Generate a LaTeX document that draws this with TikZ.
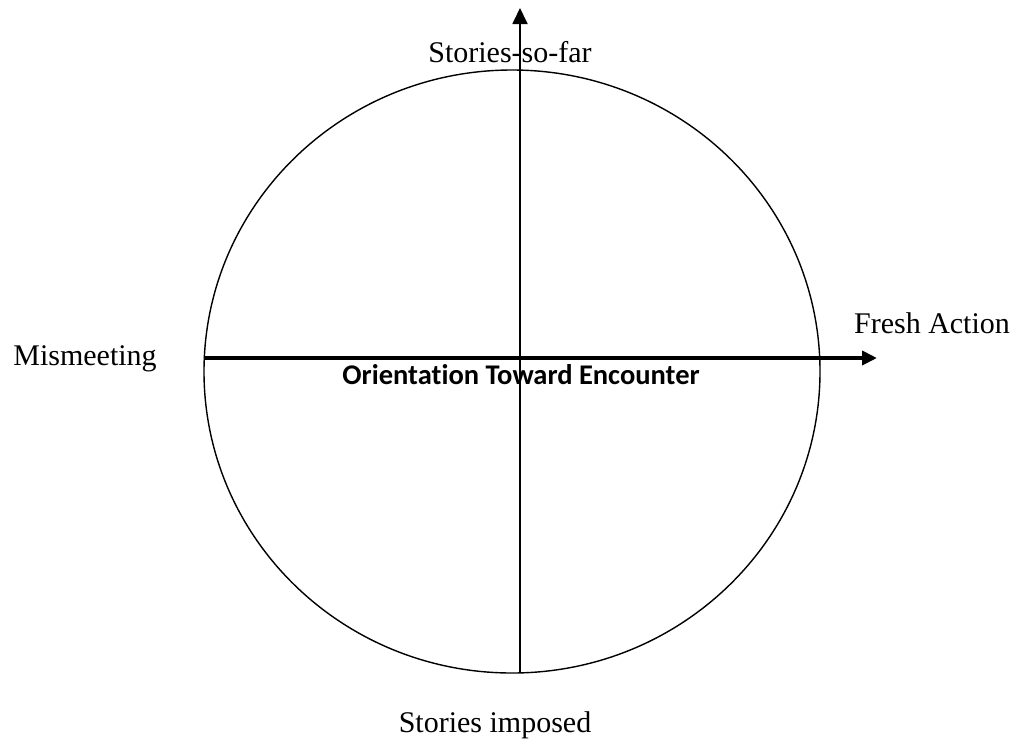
\documentclass[tikz,border=0pt]{standalone}
\usepackage{fontspec}
\setmainfont{Liberation Serif}
\newfontfamily\labelsans[Ligatures={NoCommon}]{Carlito}
\usetikzlibrary{arrows.meta,shapes.geometric}
\begin{document}
\begin{tikzpicture}[x=1pt,y=-1pt,
  ring/.style={draw,ellipse,line width=1.4pt,minimum width=616pt,minimum height=603pt,inner sep=0pt},
  axislabel/.style={anchor=base,inner sep=0pt,font=\fontsize{30}{36}\selectfont},
  axistitle/.style={anchor=base,inner sep=0pt,font=\labelsans\bfseries\fontsize{28.5}{34}\selectfont}]
\useasboundingbox (0,0) rectangle (1019,740);
% outer circle
\node[ring] (circle) at (512,371.5) {};
% end points of the two axes
\coordinate (hstart) at (204,358);
\coordinate (htip) at (877,358);
\coordinate (vbottom) at (520,672);
\coordinate (vtip) at (520,8);
% axes
\draw[line width=1.8pt,-{Triangle[length=16pt,width=15pt]}] (vbottom) -- (vtip);
\draw[line width=4pt,-{Triangle[length=15pt,width=14pt]}] (hstart) -- (htip);
% labels
\node[axislabel] (top) at (510,62) {Stories-so-far};
\node[axislabel] (right) at (932,333) {Fresh Action};
\node[axislabel] (left) at (85,365) {Mismeeting};
\node[axislabel] (bottom) at (495,732) {Stories imposed};
\node[axistitle] (title) at (521,384) {Orientation Toward Encounter};
\end{tikzpicture}
\end{document}
